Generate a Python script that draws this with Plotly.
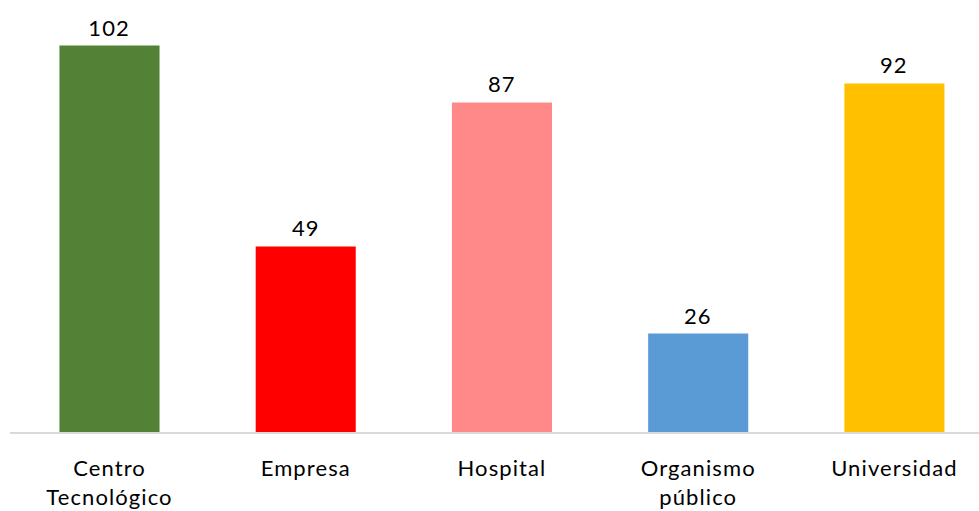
import plotly.graph_objects as go

categories = ["Centro<br>Tecnológico", "Empresa", "Hospital", "Organismo<br>público", "Universidad"]
values = [102, 49, 87, 26, 92]
colors = ["#538135", "#FF0000", "#FF8989", "#5B9BD5", "#FFC000"]

FONT = "Lato"
positions = list(range(len(categories)))

fig = go.Figure(
    go.Bar(
        x=positions,
        y=values,
        marker=dict(color=colors, line=dict(width=0)),
        width=0.51,
        hoverinfo="x+y",
    )
)

# value labels sitting above each bar
for xi, v in zip(positions, values):
    fig.add_annotation(
        x=xi, y=v, text=str(v), showarrow=False,
        yanchor="bottom", yshift=3,
        font=dict(size=22, color="#000000", family=FONT),
    )

fig.update_layout(
    width=979,
    height=511,
    margin=dict(l=10, r=0, t=10, b=79),
    paper_bgcolor="white",
    plot_bgcolor="white",
    showlegend=False,
    font=dict(family=FONT, size=22, color="#000000"),
)

fig.update_xaxes(
    range=[-0.507, 4.431],
    tickmode="array",
    tickvals=positions,
    ticktext=categories,
    showline=True,
    linecolor="#D9D9D9",
    linewidth=1.5,
    showgrid=False,
    ticks="",
    tickfont=dict(size=22, color="#000000", family=FONT),
    ticklabelstandoff=16,
)
fig.update_yaxes(range=[0, 111.4], visible=False, showgrid=False)

# widen the tracking of the category and value labels
spacing_js = """
var gd = document.getElementsByClassName('plotly-graph-div')[0];
function track(){
  gd.querySelectorAll('.xtick text, .annotation-text').forEach(function(t){
    t.style.letterSpacing = '1.1px';
  });
}
track();
gd.on('plotly_afterplot', track);
"""

fig.write_html("out.html", post_script=spacing_js)
